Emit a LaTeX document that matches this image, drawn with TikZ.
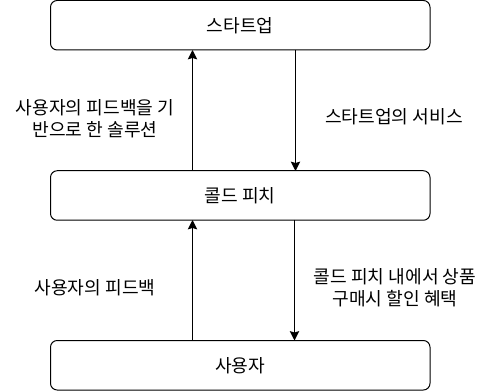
\documentclass[tikz,border=0pt]{standalone}
\usepackage{fontspec}
\setmainfont{Noto Sans CJK KR}
\usetikzlibrary{arrows.meta}
\begin{document}
\begin{tikzpicture}[x=0.75pt,y=-0.75pt,
  box/.style={draw=black,line width=0.75pt,rounded corners=5pt,fill=white,minimum width=379.5*0.75pt,minimum height=49.5*0.75pt,inner sep=0pt,font=\fontsize{13.6}{15}\selectfont},
  conn/.style={draw=black,line width=1.1pt,-{Stealth[length=7pt,width=7pt,inset=1pt]}},
  lbl/.style={align=center,font=\fontsize{13.6}{16.5}\selectfont,inner sep=0pt}]
\useasboundingbox (0,0) rectangle (481,391);
\node[box] (s) at (240.25,25.25) {스타트업};
\node[box] (c) at (240.25,195.5) {콜드 피치};
\node[box] (u) at (240.25,365.25) {사용자};
\coordinate (s1) at (192.5,50);
\coordinate (c1) at (192.5,171);
\coordinate (s2) at (295.5,50);
\coordinate (c2) at (295.5,171);
\coordinate (c3) at (192.5,220);
\coordinate (u3) at (192.5,340.5);
\coordinate (c4) at (294.5,220);
\coordinate (u4) at (294.5,340.5);
\draw[conn] (c1) -- (s1);
\draw[conn] (s2) -- (c2);
\draw[conn] (u3) -- (c3);
\draw[conn] (c4) -- (u4);
\node[lbl] (l1) at (95,119) {사용자의 피드백을 기\\반으로 한 솔루션};
\node[lbl] (l2) at (394,117) {스타트업의 서비스};
\node[lbl] (l3) at (95,288) {사용자의 피드백};
\node[lbl] (l4) at (395,288) {콜드 피치 내에서 상품\\구매시 할인 혜택};
\end{tikzpicture}
\end{document}
